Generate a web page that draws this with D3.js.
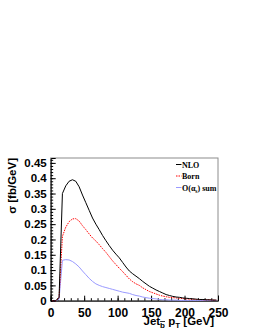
<!DOCTYPE html>
<head>
<meta charset="utf-8">
<title>Jet b pT</title>
<style>
body { margin: 0; background: #fff; }
svg text { font-family: "Liberation Sans", Arial, sans-serif; font-weight: bold; }
</style>
<script type="text/javascript" src="https://cdn.jsdelivr.net/npm/d3@7"></script>
</head>
<body>
<script>
// bin centres (GeV)
var ptBins = [2.5,7.5,12.5,17.5,22.5,27.5,32.5,37.5,42.5,47.5,52.5,57.5,62.5,67.5,72.5,77.5,82.5,87.5,92.5,97.5,
  102.5,107.5,112.5,117.5,122.5,127.5,132.5,137.5,142.5,147.5,152.5,157.5,162.5,167.5,172.5,177.5,182.5,187.5,192.5,197.5,
  202.5,207.5,212.5,217.5,222.5,227.5,232.5,237.5,242.5,247.5];

var nlo = [0,0,0.01,0.35,0.375,0.39,0.395,0.39,0.372,0.345,0.32,0.295,0.27,0.25,0.232,0.213,0.196,0.18,0.165,0.152,
  0.14,0.125,0.11,0.097,0.088,0.08,0.072,0.063,0.055,0.047,0.041,0.035,0.03,0.025,0.02,0.017,0.014,0.012,0.011,0.009,
  0.008,0.007,0.006,0.005,0.004,0.004,0.003,0.003,0.002,0.002];

var born = [0,0,0.01,0.21,0.24,0.258,0.267,0.268,0.26,0.245,0.232,0.218,0.205,0.195,0.183,0.17,0.158,0.144,0.13,0.118,
  0.106,0.095,0.083,0.071,0.062,0.055,0.05,0.042,0.036,0.03,0.026,0.022,0.018,0.015,0.013,0.011,0.01,0.009,0.008,0.007,
  0.006,0.005,0.005,0.004,0.004,0.003,0.003,0.003,0.002,0.002];

var asSum = [0,0,0.005,0.132,0.134,0.133,0.128,0.12,0.11,0.097,0.085,0.073,0.063,0.055,0.05,0.046,0.043,0.04,0.037,0.034,
  0.031,0.028,0.026,0.024,0.02,0.017,0.015,0.012,0.01,0.008,0.007,0.006,0.004,0.003,0.003,0.002,0.002,0.002,0.001,0.001,
  0.001,0.001,0.001,0.001,0.001,0.001,0.001,0.001,0.001,0.001];

var xTicks = [0,50,100,150,200,250];
var yTicks = [0,0.05,0.1,0.15,0.2,0.25,0.3,0.35,0.4,0.45];
var yTickLabels = ["0","0.05","0.1","0.15","0.2","0.25","0.3","0.35","0.4","0.45"];

var padL = 50.7, padR = 218, padT = 158, padB = 300.7;

var svg = d3.select("body").append("svg")
  .attr("width", 255).attr("height", 330);

var x = d3.scaleLinear().domain([0, 250]).range([padL, padR]);
var y = d3.scaleLinear().domain([0, 0.466]).range([padB, padT]);

// frame
svg.append("rect")
  .attr("x", padL).attr("y", padT)
  .attr("width", padR - padL).attr("height", padB - padT)
  .attr("fill", "none").attr("stroke", "#8c8c8c").attr("stroke-width", 1);

// x axis, ticks pointing up into the frame
var xAxis = d3.axisBottom(x).tickValues(xTicks).tickSize(-5).tickPadding(8).tickFormat(d3.format("d"));
var gx = svg.append("g").attr("transform", "translate(0," + padB + ")").call(xAxis);
svg.append("g").attr("transform", "translate(0," + padB + ")")
  .call(d3.axisBottom(x).tickValues(d3.range(0, 251, 10)).tickSize(-2.5).tickFormat(""))
  .select(".domain").remove();

// y axis, ticks pointing right
var yAxis = d3.axisLeft(y).tickValues(yTicks).tickSize(-5).tickPadding(4)
  .tickFormat(function(d, i) { return yTickLabels[i]; });
var gy = svg.append("g").attr("transform", "translate(" + padL + ",0)").call(yAxis);
svg.append("g").attr("transform", "translate(" + padL + ",0)")
  .call(d3.axisLeft(y).tickValues(d3.range(0, 0.461, 0.01)).tickSize(-2.5).tickFormat(""))
  .select(".domain").remove();

svg.selectAll(".domain").attr("stroke", "#000");
svg.selectAll(".tick line").attr("stroke", "#000");
gx.selectAll("text").attr("font-size", 12).attr("fill", "#000");
gy.selectAll("text").attr("font-size", 11.5).attr("fill", "#000");

// axis titles
svg.append("text")
  .attr("transform", "translate(16," + padT + ") rotate(-90)")
  .attr("text-anchor", "end")
  .attr("font-size", 11.5)
  .text("σ [fb/GeV]");

var xt = svg.append("text")
  .attr("x", padR - 4).attr("y", 325)
  .attr("text-anchor", "end")
  .attr("font-size", 11.5);
xt.append("tspan").text("Jet");
xt.append("tspan").attr("font-size", 8).attr("dy", 3).attr("text-decoration", "overline").text("b");
xt.append("tspan").attr("dy", -3).text(" p");
xt.append("tspan").attr("font-size", 8).attr("dy", 3).text("T");
xt.append("tspan").attr("dy", -3).text(" [GeV]");

// curves
var line = function(vals) {
  return d3.line().x(function(d, i) { return x(ptBins[i]); }).y(function(d) { return y(d); })(vals);
};

svg.append("path").attr("d", line(asSum))
  .attr("fill", "none").attr("stroke", "#9a9aff").attr("stroke-width", 1);
svg.append("path").attr("d", line(born))
  .attr("fill", "none").attr("stroke", "#ff0000").attr("stroke-width", 1).attr("stroke-dasharray", "1.5,1");
svg.append("path").attr("d", line(nlo))
  .attr("fill", "none").attr("stroke", "#000").attr("stroke-width", 1);

// legend
var legend = [
  { name: "NLO", color: "#000", dash: null },
  { name: "Born", color: "#ff0000", dash: "1.5,1" },
  { name: "sum", color: "#9a9aff", dash: null }
];
legend.forEach(function(l, i) {
  var ly = 164.5 + i * 11.5;
  svg.append("line")
    .attr("x1", 176).attr("x2", 181.5).attr("y1", ly).attr("y2", ly)
    .attr("stroke", l.color).attr("stroke-width", 1).attr("stroke-dasharray", l.dash);
  var t = svg.append("text")
    .attr("x", 182).attr("y", ly + 3)
    .style("font-family", "'Liberation Serif', 'Times New Roman', serif")
    .attr("font-size", 8);
  if (l.name == "sum") {
    t.append("tspan").text("O(α");
    t.append("tspan").attr("font-size", 5.5).attr("dy", 2).text("s");
    t.append("tspan").attr("dy", -2).text(") sum");
  } else {
    t.text(l.name);
  }
});
</script>
</body>
